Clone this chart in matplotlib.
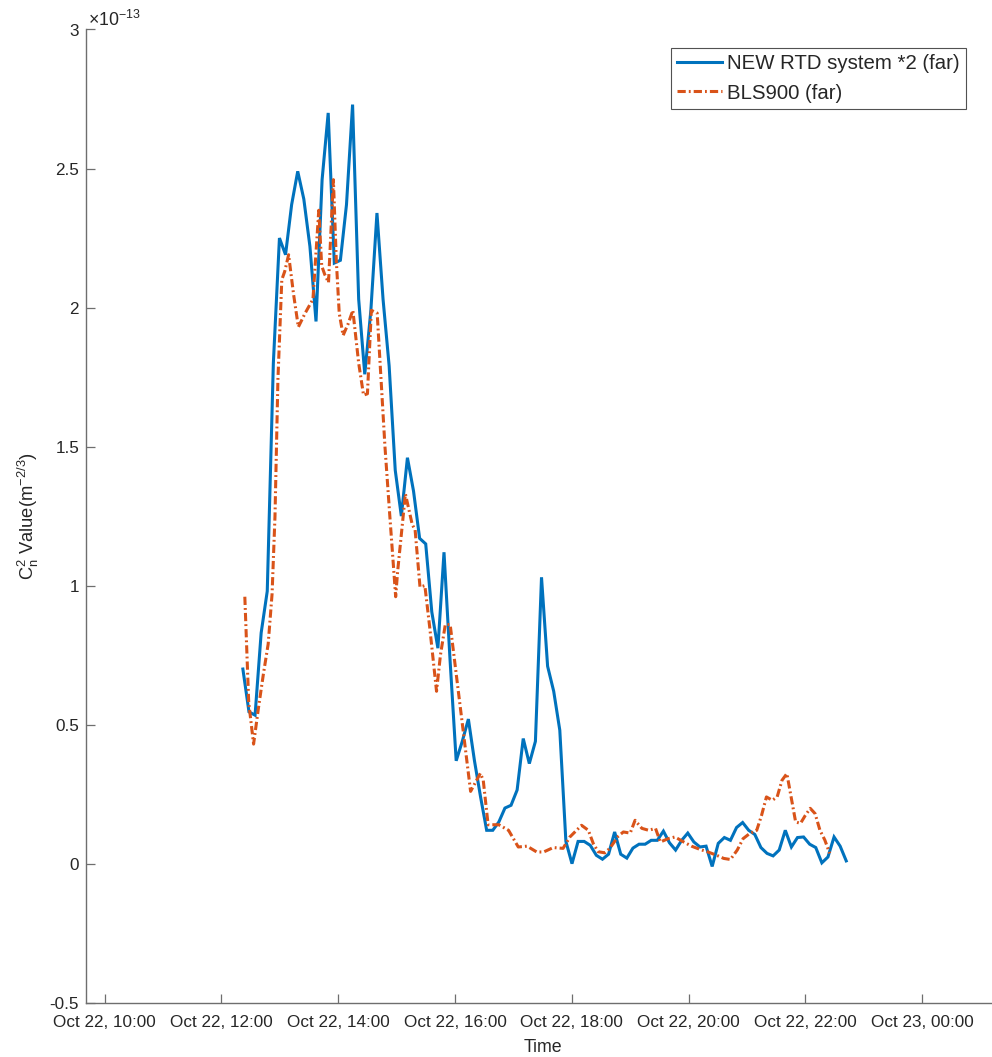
import matplotlib
matplotlib.use("Agg")
import matplotlib.pyplot as plt
import matplotlib.dates as mdates
import numpy as np
import pandas as pd

plt.rcParams['font.family'] = ['Liberation Sans', 'DejaVu Sans']
plt.rcParams['mathtext.fontset'] = 'custom'
plt.rcParams['mathtext.rm'] = 'Liberation Sans'
plt.rcParams['mathtext.it'] = 'Liberation Sans'

DAY = "2023-10-22"
SCALE = 1e-13

# NEW RTD system (x2), regular samples between start and end
rtd_start = DAY + " 12:22"
rtd_end = DAY + " 22:42"
rtd_values = [
    0.70, 0.546, 0.534, 0.83, 0.98, 1.80, 2.25, 2.19, 2.37, 2.49,
    2.39, 2.22, 1.95, 2.46, 2.70, 2.16, 2.17, 2.37, 2.73, 2.03,
    1.76, 1.99, 2.34, 2.03, 1.79, 1.415, 1.25, 1.46, 1.34, 1.17,
    1.15, 0.905, 0.775, 1.12, 0.73, 0.37, 0.44, 0.52, 0.37, 0.24,
    0.12, 0.12, 0.15, 0.20, 0.21, 0.265, 0.45, 0.36, 0.44, 1.03,
    0.71, 0.62, 0.48, 0.08, 0.0, 0.08, 0.08, 0.066, 0.03, 0.016,
    0.034, 0.114, 0.034, 0.02, 0.056, 0.07, 0.07, 0.084, 0.084, 0.117,
    0.075, 0.049, 0.084, 0.11, 0.078, 0.06, 0.063, -0.01, 0.073, 0.094,
    0.084, 0.13, 0.148, 0.12, 0.105, 0.058, 0.037, 0.028, 0.049, 0.12,
    0.06, 0.094, 0.096, 0.07, 0.058, 0.003, 0.024, 0.096, 0.063, 0.01,
]

# BLS900 scintillometer
bls_times = [
    "12:24", "12:28", "12:33", "12:38", "12:43", "12:48", "12:52", "12:55",
    "12:58", "13:02", "13:05", "13:09", "13:14", "13:19", "13:26", "13:34",
    "13:40", "13:43", "13:46", "13:50", "13:55", "13:58", "14:01", "14:05",
    "14:10", "14:15", "14:21", "14:26", "14:30", "14:34", "14:40", "14:48",
    "14:53", "14:59", "15:01", "15:09", "15:16", "15:19", "15:24", "15:29",
    "15:34", "15:41", "15:45", "15:50", "15:55", "16:16", "16:26", "16:29",
    "16:34", "16:45", "16:55", "17:05", "17:14", "17:24", "17:31", "17:41",
    "17:51", "17:58", "18:10", "18:17", "18:22", "18:27", "18:34", "18:39",
    "18:48", "18:53", "19:00", "19:05", "19:12", "19:19", "19:26", "19:31",
    "19:39", "19:46", "19:55", "20:03", "20:12", "20:20", "20:29", "20:36",
    "20:43", "20:50", "20:56", "21:03", "21:10", "21:15", "21:20", "21:26",
    "21:31", "21:36", "21:41", "21:50", "21:55", "22:00", "22:05", "22:10",
    "22:15", "22:20", "22:25",
]
bls_values = [
    0.96, 0.58, 0.43, 0.56, 0.68, 0.79, 0.97, 1.25,
    1.74, 2.10, 2.13, 2.19, 2.05, 1.93, 1.98, 2.03,
    2.35, 2.15, 2.12, 2.09, 2.46, 2.17, 1.98, 1.90,
    1.94, 1.99, 1.80, 1.685, 1.69, 1.99, 1.98, 1.50,
    1.25, 0.96, 1.05, 1.33, 1.22, 1.20, 0.995, 1.00,
    0.85, 0.62, 0.75, 0.86, 0.86, 0.26, 0.325, 0.30,
    0.14, 0.14, 0.12, 0.06, 0.063, 0.042, 0.042, 0.058,
    0.055, 0.096, 0.138, 0.12, 0.073, 0.043, 0.039, 0.055,
    0.10, 0.114, 0.11, 0.156, 0.127, 0.12, 0.127, 0.078,
    0.09, 0.096, 0.078, 0.063, 0.051, 0.042, 0.03, 0.019,
    0.015, 0.049, 0.09, 0.109, 0.12, 0.174, 0.24, 0.228,
    0.24, 0.30, 0.324, 0.15, 0.145, 0.174, 0.199, 0.18,
    0.12, 0.085, 0.037,
]

series_labels = ["NEW RTD system *2 (far)", "BLS900 (far)"]
y_ticks = [-0.5, 0, 0.5, 1, 1.5, 2, 2.5, 3]
x_limits = (DAY + " 09:40:48", "2023-10-23 01:20")

rtd_t = pd.date_range(rtd_start, rtd_end, periods=len(rtd_values))
bls_t = pd.to_datetime([DAY + " " + t for t in bls_times])

W, H = 992, 1057
fig = plt.figure(figsize=(W / 100, H / 100), dpi=100)
left, right, top, bottom = 86, 1000, 29.5, 1002.7
ax = fig.add_axes([left / W, 1 - bottom / H, (right - left) / W, (bottom - top) / H])

blue = "#0072BD"
orange = "#D95319"
ax.plot(rtd_t, np.array(rtd_values) * SCALE, color=blue, lw=2.2,
        label=series_labels[0], solid_joinstyle="miter")
ax.plot(bls_t, np.array(bls_values) * SCALE, color=orange, lw=2.2,
        linestyle=(0, (2.7, 1.0, 0.6, 1.0)), label=series_labels[1])

ax.set_xlim(pd.Timestamp(x_limits[0]), pd.Timestamp(x_limits[1]))
ax.set_ylim(-0.5 * SCALE, 3 * SCALE)
ax.set_yticks(np.array(y_ticks) * SCALE)
ax.set_yticklabels([f"{v:g}" for v in y_ticks])
ax.xaxis.set_major_locator(mdates.HourLocator(byhour=range(0, 24, 2)))
ax.xaxis.set_major_formatter(mdates.DateFormatter("%b %d, %H:%M"))

axis_col = "#6e6e6e"
text_col = "#262626"
for s in ("top", "right"):
    ax.spines[s].set_visible(False)
for s in ("left", "bottom"):
    ax.spines[s].set_color(axis_col)
    ax.spines[s].set_linewidth(1.0)
ax.tick_params(direction="in", length=6.5, width=0.9, color=axis_col,
               labelcolor=text_col, labelsize=12.3)
ax.tick_params(axis="y", pad=5)
ax.tick_params(axis="x", pad=8.6)

ax.set_xlabel("Time", fontsize=12.8, color=text_col, labelpad=6.5)
ax.set_ylabel(r"C$_{\mathrm{n}}^{2}$ Value(m$^{-2/3}$)", fontsize=13.2,
              color=text_col, labelpad=6)

ax.text(88 / W, 1 - 20 / H, r"$\times$10$^{-13}$", transform=fig.transFigure,
        fontsize=12.8, color=text_col, va="center", ha="left")

leg = ax.legend(loc="upper right", bbox_to_anchor=(966 / W, 1 - 48.3 / H),
                bbox_transform=fig.transFigure, fontsize=14.7, frameon=True,
                fancybox=False, edgecolor="#262626", handlelength=2.2,
                borderpad=0.3, labelspacing=0.5, handletextpad=0.25,
                borderaxespad=0)
leg.get_frame().set_linewidth(0.8)
for t in leg.get_texts():
    t.set_color(text_col)

fig.savefig("out.png", dpi=100)
